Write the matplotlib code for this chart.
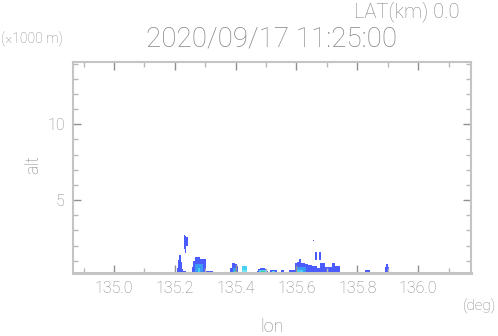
import matplotlib
matplotlib.use("Agg")
import matplotlib.pyplot as plt
from matplotlib.ticker import MultipleLocator

# echo columns: lon left, lon right, alt top (km), alt bottom (km), level
col_left = [135.207, 135.211, 135.215, 135.220, 135.224, 135.228,
            135.230, 135.234, 135.238,
            135.257, 135.261, 135.266, 135.283, 135.266, 135.275,
            135.303, 135.339,
            135.382, 135.388, 135.398, 135.405, 135.390, 135.394,
            135.421, 135.421,
            135.470, 135.474, 135.480, 135.497, 135.503, 135.476, 135.482,
            135.513, 135.518, 135.549, 135.576,
            135.595, 135.602, 135.608, 135.615, 135.628, 135.597, 135.600,
            135.638, 135.651, 135.668, 135.678, 135.694, 135.717, 135.727,
            135.655, 135.661, 135.674,
            135.826, 135.891, 135.894]
col_right = [135.211, 135.215, 135.220, 135.224, 135.228, 135.237,
             135.234, 135.238, 135.242,
             135.261, 135.266, 135.283, 135.303, 135.292, 135.284,
             135.326, 135.345,
             135.388, 135.398, 135.405, 135.408, 135.404, 135.400,
             135.4375, 135.4375,
             135.474, 135.480, 135.497, 135.503, 135.507, 135.500, 135.494,
             135.536, 135.530, 135.559, 135.595,
             135.602, 135.608, 135.615, 135.628, 135.638, 135.630, 135.620,
             135.651, 135.668, 135.678, 135.694, 135.717, 135.727, 135.743,
             135.658, 135.668, 135.681,
             135.842, 135.905, 135.902]
col_top = [0.53, 1.05, 1.38, 0.92, 0.45, 0.35,
           2.70, 2.65, 2.55,
           0.60, 1.00, 1.25, 1.12, 0.80, 0.50,
           0.30, 0.28,
           0.55, 0.86, 0.80, 0.65, 0.55, 0.35,
           0.66, 0.40,
           0.35, 0.48, 0.53, 0.45, 0.33, 0.42, 0.33,
           0.37, 0.30, 0.39, 0.39,
           0.86, 0.95, 1.12, 0.86, 0.80, 0.60, 0.40,
           0.72, 0.66, 0.53, 0.86, 0.59, 0.86, 0.66,
           2.40, 1.58, 1.58,
           0.39, 0.59, 0.79]
col_base = [0, 0, 0, 0, 0, 0,
            1.75, 1.51, 2.00,
            0, 0, 0, 0, 0, 0,
            0, 0,
            0, 0, 0, 0, 0, 0,
            0, 0,
            0, 0, 0, 0, 0, 0, 0,
            0, 0, 0, 0,
            0, 0, 0, 0, 0, 0, 0,
            0, 0, 0, 0, 0, 0, 0,
            2.30, 1.05, 1.05,
            0, 0, 0]
col_level = [0, 0, 0, 0, 0, 0,
             0, 0, 0,
             0, 0, 0, 0, 1, 2,
             0, 0,
             0, 0, 0, 0, 1, 3,
             2, 4,
             0, 0, 0, 0, 0, 2, 3,
             0, 2, 0, 0,
             0, 0, 0, 0, 0, 1, 2,
             0, 0, 0, 0, 0, 0, 0,
             0, 0, 0,
             0, 0, 0]

level_colors = ["#4a5cff", "#3c9af5", "#48d0f5", "#40d890", "#6ee8f8"]

x_ticks = [135.0, 135.2, 135.4, 135.6, 135.8, 136.0]
y_ticks = [5, 10]

plt.rcParams["font.family"] = ["Roboto", "DejaVu Sans"]
plt.rcParams["font.weight"] = "light"

txt = "#858585"
edge = "#c4c4c4"

fig = plt.figure(figsize=(4.98, 3.36), dpi=100)
ax = fig.add_axes([0.1466, 0.1875, 0.7992, 0.628])

for l, r, t, b, lv in zip(col_left, col_right, col_top, col_base, col_level):
    ax.bar(l, t - b, width=r - l, bottom=b, align="edge",
           color=level_colors[lv], linewidth=0)

ax.set_xlim(134.865, 136.174)
ax.set_ylim(0.2, 14.1)
ax.set_xticks(x_ticks)
ax.set_xticklabels([f"{v:.1f}" for v in x_ticks])
ax.set_yticks(y_ticks)
ax.xaxis.set_minor_locator(MultipleLocator(0.1))
ax.yaxis.set_minor_locator(MultipleLocator(1))

for s in ax.spines.values():
    s.set_color(edge)
    s.set_linewidth(1.5)
ax.spines["bottom"].set_linewidth(2.2)

ax.tick_params(which="both", direction="in", top=True, right=True,
               labelsize=11.5, labelcolor=txt)
ax.tick_params(which="major", length=6, width=1, color="#909090")
ax.tick_params(which="minor", length=3.5, width=1, color="#b8b8b8")
ax.tick_params(axis="x", pad=6)
ax.tick_params(axis="y", pad=6)

fig.text(0.817, 0.967, "LAT(km) 0.0", ha="center", va="center",
         fontsize=14.5, color=txt)
fig.text(0.545, 0.884, "2020/09/17 11:25:00", ha="center", va="center",
         fontsize=20, color=txt)
fig.text(0.002, 0.884, "(\u00d71000 m)", ha="left", va="center",
         fontsize=10, color=txt)
fig.text(0.066, 0.51, "alt", ha="center", va="center", rotation=90,
         fontsize=13, color=txt)
fig.text(0.546, 0.027, "lon", ha="center", va="center",
         fontsize=13, color=txt)
fig.text(0.962, 0.089, "(deg)", ha="center", va="center",
         fontsize=11, color=txt)

fig.savefig("out.png", dpi=100)
